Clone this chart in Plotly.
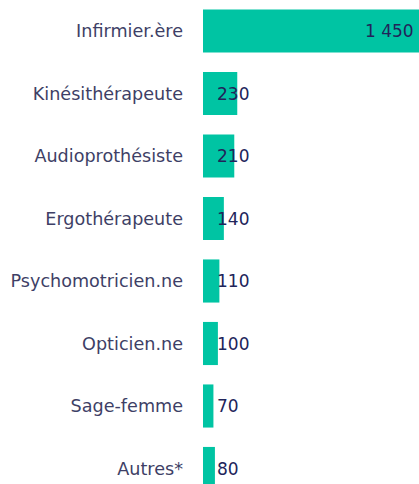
import plotly.graph_objects as go

categories = ["Infirmier.ère", "Kinésithérapeute", "Audioprothésiste", "Ergothérapeute",
              "Psychomotricien.ne", "Opticien.ne", "Sage-femme", "Autres*"]
values = [1450, 230, 210, 140, 110, 100, 70, 80]
value_labels = ["1 450", "230", "210", "140", "110", "100", "70", "80"]

BAR = "#00C4A3"
NAVY = "#21245A"
LABEL = "#3E3F66"
FONT = "'DejaVu Sans', sans-serif"

fig = go.Figure(go.Bar(
    x=values, y=categories, orientation="h",
    marker=dict(color=BAR, line=dict(width=0)),
    width=0.69, hoverinfo="skip",
))

annotations = []
for i, (c, v, t) in enumerate(zip(categories, values, value_labels)):
    if i == 0:
        annotations.append(dict(x=v, y=c, text=t, showarrow=False, xanchor="right",
                                xshift=-3, font=dict(size=17, color=NAVY, family=FONT)))
    else:
        annotations.append(dict(x=0, y=c, text=t, showarrow=False, xanchor="left",
                                xshift=12, font=dict(size=17, color=NAVY, family=FONT)))

fig.update_layout(
    width=419, height=484,
    margin=dict(l=203, r=0, t=0, b=0),
    paper_bgcolor="white", plot_bgcolor="white",
    showlegend=False,
    annotations=annotations,
    xaxis=dict(range=[0, 1450], visible=False, fixedrange=True),
    yaxis=dict(type="category", categoryorder="array", categoryarray=categories,
               range=[7.248, -0.496], showgrid=False, zeroline=False, showline=False,
               ticks="", ticklabelstandoff=19, fixedrange=True,
               tickfont=dict(size=17.6, color=LABEL, family=FONT)),
)

fig.write_html("out.html", config={"displayModeBar": False},
               post_script="document.body.style.margin='0';document.body.style.overflow='hidden';")
